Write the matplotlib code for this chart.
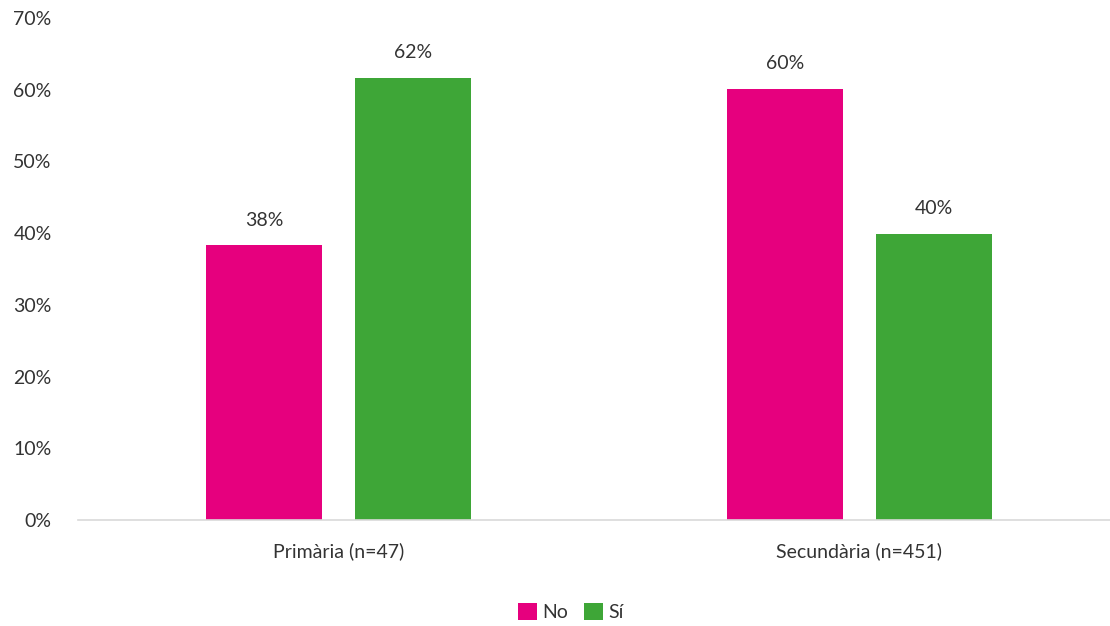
import numpy as np
import matplotlib.pyplot as plt
from matplotlib.ticker import FuncFormatter

categories = ["Primària (n=47)", "Secundària (n=451)"]
series_names = ["No", "Sí"]
no_vals = [38.3, 60.1]
si_vals = [61.7, 39.9]
yticks = [0, 10, 20, 30, 40, 50, 60, 70]

PINK = "#E6007E"
GREEN = "#3EA637"
TEXT = "#333333"

plt.rcParams['font.family'] = ['Lato', 'DejaVu Sans']
plt.rcParams['font.size'] = 14

fig = plt.figure(figsize=(11.1, 6.26), dpi=100)
ax = fig.add_axes([78 / 1110, 1 - 520 / 626, 1032 / 1110, 502 / 626])

x = np.arange(len(categories))
width = 0.223
offset = 0.143

bars_no = ax.bar(x - offset, no_vals, width, color=PINK, label=series_names[0])
bars_si = ax.bar(x + offset, si_vals, width, color=GREEN, label=series_names[1])

for bars in (bars_no, bars_si):
    for b in bars:
        h = b.get_height()
        ax.annotate(f"{h:.0f}%", (b.get_x() + b.get_width() / 2, h),
                    xytext=(0, 12), textcoords="offset points",
                    ha="center", va="bottom", color=TEXT, fontsize=14)

ax.set_xlim(-0.5, 1.481)
ax.set_ylim(0, 70)
ax.set_yticks(yticks)
ax.yaxis.set_major_formatter(FuncFormatter(lambda v, _: f"{v:.0f}%"))
ax.set_xticks(x)
ax.set_xticklabels(categories)
ax.tick_params(axis="both", length=0, colors=TEXT, labelsize=14)
ax.tick_params(axis="x", pad=16)
ax.tick_params(axis="y", pad=19)

for side in ("top", "right", "left"):
    ax.spines[side].set_visible(False)
ax.spines["bottom"].set_color("#D9D9D9")
ax.spines["bottom"].set_linewidth(1.2)

fig.legend(loc="center", bbox_to_anchor=(571 / 1110, 1 - 612 / 626), ncol=2,
           frameon=False, handlelength=0.95, handleheight=0.95,
           handletextpad=0.3, columnspacing=0.8, fontsize=14, labelcolor=TEXT)

fig.savefig("out.png", dpi=100)
